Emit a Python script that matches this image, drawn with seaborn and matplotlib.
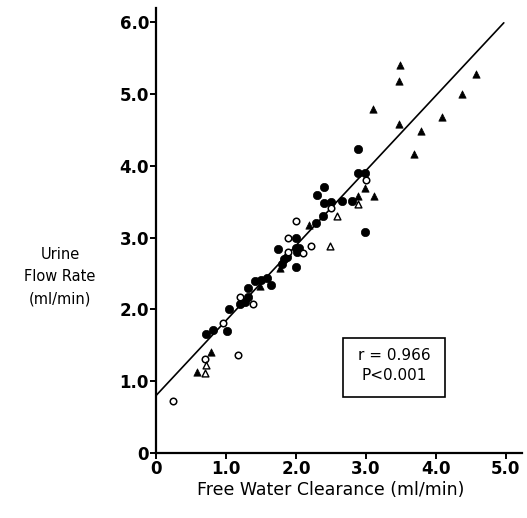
import numpy as np
import pandas as pd
import matplotlib
matplotlib.use("Agg")
import matplotlib.pyplot as plt
from matplotlib.patches import Rectangle
import seaborn as sns

# free water clearance (ml/min) vs urine flow rate (ml/min)
filled_circle_x = [0.72, 0.81, 1.02, 1.04, 1.20, 1.27, 1.31, 1.31, 1.42, 1.50, 1.58,
                   1.64, 1.80, 1.83, 1.74, 1.87, 2.00, 2.02, 2.05, 2.00, 2.00, 2.29,
                   2.38, 2.30, 2.40, 2.40, 2.50, 2.66, 2.80, 2.88, 2.98, 2.88, 2.99]
filled_circle_y = [1.66, 1.71, 1.70, 2.00, 2.08, 2.11, 2.18, 2.30, 2.39, 2.41, 2.44,
                   2.34, 2.64, 2.70, 2.84, 2.73, 2.85, 2.80, 2.86, 2.99, 2.59, 3.20,
                   3.30, 3.60, 3.71, 3.49, 3.50, 3.51, 3.51, 3.90, 3.90, 4.24, 3.08]

open_circle_x = [0.24, 0.70, 0.96, 1.17, 1.20, 1.38, 1.88, 1.88, 2.00, 2.10, 2.21, 2.50, 3.00]
open_circle_y = [0.73, 1.31, 1.81, 1.36, 2.17, 2.08, 2.80, 3.00, 3.23, 2.78, 2.88, 3.41, 3.80]

filled_tri_x = [0.59, 0.78, 1.49, 1.77, 2.18, 2.88, 2.99, 3.12, 3.10, 3.47, 3.47,
                3.48, 3.68, 3.78, 4.09, 4.37, 4.57]
filled_tri_y = [1.13, 1.41, 2.32, 2.58, 3.17, 3.58, 3.69, 3.58, 4.79, 4.58, 5.18,
                5.41, 4.17, 4.48, 4.68, 5.00, 5.28]

open_tri_x = [0.70, 0.72, 2.48, 2.59, 2.88]
open_tri_y = [1.12, 1.23, 2.89, 3.30, 3.47]

# regression line as printed
fit_intercept = 0.80
fit_slope = 1.045
fit_x_range = [0.0, 4.97]

x_ticks = [0, 1, 2, 3, 4, 5]
x_ticklabels = ["0", "1.0", "2.0", "3.0", "4.0", "5.0"]
y_ticks = [0, 1, 2, 3, 4, 5, 6]
y_ticklabels = ["0", "1.0", "2.0", "3.0", "4.0", "5.0", "6.0"]

sns.set_style("ticks")
plt.rcParams["font.family"] = ["DejaVu Sans"]
plt.rcParams["text.color"] = "black"
plt.rcParams["xtick.color"] = "black"
plt.rcParams["ytick.color"] = "black"

fig = plt.figure(figsize=(5.27, 5.18), dpi=100)
ax = fig.add_axes([156 / 527, 65 / 518, 366 / 527, 445 / 518])

groups = [
    (filled_circle_x, filled_circle_y, "o", "black", 36, 0.5),
    (open_circle_x, open_circle_y, "o", "white", 22, 1.1),
    (filled_tri_x, filled_tri_y, "^", "black", 28, 0.5),
    (open_tri_x, open_tri_y, "^", "white", 24, 1.0),
]
for gx, gy, mk, fc, size, lw in groups:
    df = pd.DataFrame({"clearance": gx, "flow": gy})
    sns.scatterplot(data=df, x="clearance", y="flow", marker=mk, s=size,
                    color=fc, edgecolor="black", linewidth=lw, ax=ax, zorder=3)

lx = np.array(fit_x_range)
sns.lineplot(x=lx, y=fit_intercept + fit_slope * lx, color="black", lw=1.2, ax=ax)

ax.set_xlim(0, 5.23)
ax.set_ylim(0, 6.2)
ax.set_xticks(x_ticks)
ax.set_xticklabels(x_ticklabels)
ax.set_yticks(y_ticks)
ax.set_yticklabels(y_ticklabels)
ax.tick_params(axis="both", direction="out", length=4, width=1.4,
               labelsize=12, color="black", labelcolor="black", pad=1)
for lab in ax.get_xticklabels() + ax.get_yticklabels():
    lab.set_fontweight("bold")
sns.despine(ax=ax)
for side in ["left", "bottom"]:
    ax.spines[side].set_linewidth(1.6)
    ax.spines[side].set_color("black")

ax.set_xlabel("")
ax.set_ylabel("")
ax.text(0.478, -0.083, "Free Water Clearance (ml/min)", transform=ax.transAxes,
        ha="center", va="center", fontsize=12.5, color="black")
ax.text(-0.262, 0.396, "Urine\nFlow Rate\n(ml/min)", transform=ax.transAxes,
        ha="center", va="center", fontsize=10.5, linespacing=1.6, color="black")

ax.add_patch(Rectangle((0.511, 0.126), 0.279, 0.133, transform=ax.transAxes,
                       fill=False, edgecolor="black", lw=1.2))
ax.text(0.650, 0.220, "r = 0.966", transform=ax.transAxes, ha="center",
        va="center", fontsize=11, color="black")
ax.text(0.650, 0.175, "P<0.001", transform=ax.transAxes, ha="center",
        va="center", fontsize=11, color="black")

fig.savefig("out.png", dpi=100)
